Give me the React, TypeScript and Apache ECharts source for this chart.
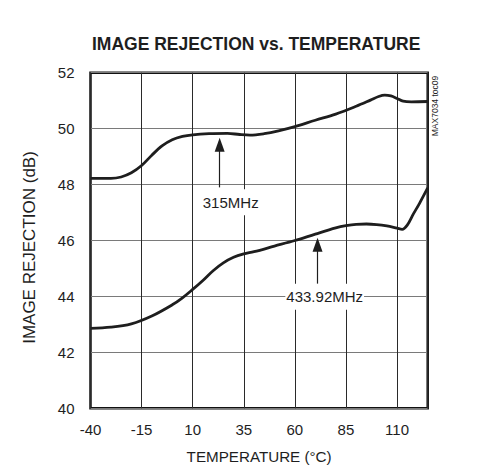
import React, { useEffect, useRef } from "react";
import * as echarts from "echarts";

// Temperature (°C) / image rejection (dB)
const upperTemp = [-40, -30, -25, -20, -15, -10, -5, 0, 5, 10, 18, 27, 33, 38, 45, 52, 60, 70, 80, 90, 97, 101, 104, 107, 110, 113, 117, 125];
const upperDb = [48.22, 48.22, 48.27, 48.42, 48.68, 49.05, 49.38, 49.6, 49.72, 49.78, 49.82, 49.83, 49.79, 49.77, 49.82, 49.92, 50.07, 50.3, 50.52, 50.8, 51.02, 51.15, 51.2, 51.17, 51.08, 50.98, 50.96, 50.97];

const lowerTemp = [-40, -30, -20, -10, 0, 5, 10, 15, 20, 25, 30, 35, 40, 50, 60, 70, 80, 85, 90, 95, 100, 105, 110, 112.5, 115, 118, 121, 125];
const lowerDb = [42.86, 42.9, 43.02, 43.3, 43.7, 43.95, 44.25, 44.57, 44.92, 45.2, 45.4, 45.52, 45.6, 45.8, 46.0, 46.23, 46.45, 46.53, 46.58, 46.59, 46.57, 46.52, 46.44, 46.4, 46.55, 46.95, 47.33, 47.88];

// Annotations: arrow [start, end] and label anchor, in data units
const arrow315 = [[23.2, 47.9], [23.2, 49.42]];
const label315 = [28.6, 47.37];
const arrow433 = [[71.1, 44.45], [71.1, 45.85]];
const label433 = [74.6, 43.99];

const seriesNames = ["315MHz", "433.92MHz"];

const title = "IMAGE REJECTION vs. TEMPERATURE";
const xName = "TEMPERATURE (°C)";
const yName = "IMAGE REJECTION (dB)";
const sideNote = "MAX7034 toc09";

const FONT = "'Liberation Sans', Arial, Helvetica, sans-serif";
const NARROW_FONT = "'Liberation Sans Narrow', 'Liberation Sans', Arial, sans-serif";
const INK = "#1e1e1e";

function zip(a: number[], b: number[]) {
  return a.map((v, i) => [v, b[i]]);
}

function hasFont(name: string): boolean {
  try {
    const ctx = document.createElement("canvas").getContext("2d");
    if (!ctx) return false;
    const sample = "TEMPERATURE 0123456789 MHz";
    ctx.font = "40px monospace";
    const a = ctx.measureText(sample).width;
    ctx.font = `40px "${name}", monospace`;
    const b = ctx.measureText(sample).width;
    return Math.abs(a - b) > 0.5;
  } catch (e) {
    return false;
  }
}

export default function App() {
  const ref = useRef<HTMLDivElement>(null);
  useEffect(() => {
    if (!ref.current) return;
    const chart = echarts.init(ref.current, undefined, { renderer: "svg" });

    const narrow = hasFont("Liberation Sans Narrow");
    const tFont = narrow ? NARROW_FONT : FONT;
    const titleSize = narrow ? 21 : 17.5;
    const tickSize = narrow ? 18 : 15;
    const xNameSize = narrow ? 17.5 : 15.2;

    const arrowLine = (pts: number[][]) => ({
      silent: true,
      symbol: ["none", "triangle"],
      symbolSize: [10, 14],
      label: { show: false },
      lineStyle: { color: INK, width: 1.2, type: "solid" },
      itemStyle: { color: INK },
      data: [[{ coord: pts[0] }, { coord: pts[1] }]],
    });
    const textMark = (pos: number[], text: string) => ({
      silent: true,
      symbol: "rect",
      symbolSize: 0,
      data: [
        {
          coord: pos,
          label: {
            show: true,
            position: "inside",
            formatter: text,
            color: INK,
            fontFamily: FONT,
            fontSize: 15,
            backgroundColor: "#ffffff",
            padding: [6, 1, 5, 1],
          },
        },
      ],
    });

    chart.setOption({
      animation: false,
      backgroundColor: "#ffffff",
      title: {
        text: title,
        left: 92,
        top: narrow ? 33 : 35,
        padding: 0,
        textStyle: { fontFamily: tFont, fontSize: titleSize, fontWeight: "bold", color: INK },
      },
      grid: {
        left: 90.5,
        right: 67.3,
        top: 72.7,
        bottom: 61.7,
        show: true,
        borderColor: "#111111",
        borderWidth: 2.5,
        backgroundColor: "transparent",
      },
      xAxis: {
        type: "value",
        min: -40,
        max: 125,
        interval: 25,
        name: xName,
        nameLocation: "middle",
        nameGap: narrow ? 39 : 41,
        nameTextStyle: { fontFamily: tFont, fontSize: xNameSize, color: INK },
        axisLine: { show: false },
        axisTick: { show: false },
        axisLabel: {
          showMaxLabel: false,
          margin: narrow ? 13 : 14,
          fontFamily: tFont,
          fontSize: tickSize,
          color: INK,
        },
        splitLine: { show: true, lineStyle: { color: "#2a2a2a", width: 1 } },
      },
      yAxis: {
        type: "value",
        min: 40,
        max: 52,
        interval: 2,
        axisLine: { show: false },
        axisTick: { show: false },
        axisLabel: { margin: 16, fontFamily: tFont, fontSize: tickSize, color: INK },
        splitLine: { show: true, lineStyle: { color: "#7a7a7a", width: 1 } },
      },
      graphic: [
        {
          type: "text",
          x: 29.5,
          y: 247.5,
          rotation: Math.PI / 2,
          style: {
            text: yName,
            fontFamily: FONT,
            fontSize: 17,
            fill: INK,
            textAlign: "center",
            textVerticalAlign: "middle",
          },
        },
        {
          type: "text",
          x: 435,
          y: 106,
          rotation: Math.PI / 2,
          style: {
            text: sideNote,
            fontFamily: tFont,
            fontSize: narrow ? 10 : 8.5,
            fill: INK,
            textAlign: "center",
            textVerticalAlign: "middle",
          },
        },
      ],
      series: [
        {
          name: seriesNames[0],
          type: "line",
          data: zip(upperTemp, upperDb),
          showSymbol: false,
          smooth: 0.35,
          lineStyle: { color: INK, width: 2.8 },
          markLine: arrowLine(arrow315),
        },
        {
          name: seriesNames[1],
          type: "line",
          data: zip(lowerTemp, lowerDb),
          showSymbol: false,
          smooth: 0.35,
          lineStyle: { color: INK, width: 2.8 },
          markLine: arrowLine(arrow433),
        },
        {
          name: "labels",
          type: "line",
          data: [],
          markPoint: textMark(label315, seriesNames[0]),
        },
        {
          name: "labels2",
          type: "line",
          data: [],
          markPoint: textMark(label433, seriesNames[1]),
        },
      ],
    });
    return () => chart.dispose();
  }, []);

  return (
    <div
      ref={ref}
      style={{ position: "fixed", left: 0, top: 0, width: 495, height: 470, background: "#fff" }}
    />
  );
}
